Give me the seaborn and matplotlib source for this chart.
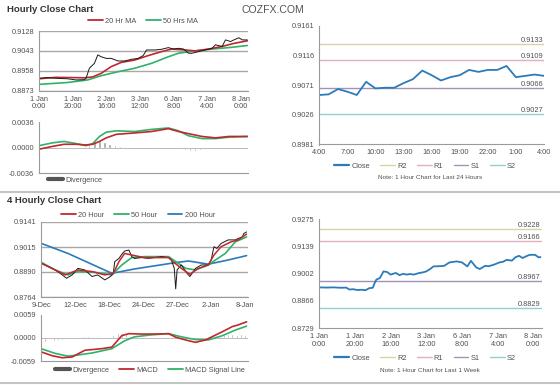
import matplotlib
matplotlib.use("Agg")
import matplotlib.pyplot as plt
from matplotlib.lines import Line2D
import seaborn as sns

# ---------------- data ----------------
# hourly close chart (hours since 1 Jan 0:00)
tl_hours = [0, 5, 10, 17, 22, 27, 28, 30, 33, 35, 37, 40, 43, 47, 51, 55, 59, 62, 64, 69,
            73, 77, 80, 83, 86, 89, 91, 95, 99, 103, 105, 109, 111, 114, 116, 119, 121, 124]
tl_close = [0.8926, 0.8929, 0.8926, 0.8924, 0.8919, 0.8920, 0.8926, 0.8969, 0.8990, 0.9026,
            0.9018, 0.9011, 0.9011, 0.9000, 0.9000, 0.9007, 0.9011, 0.9023, 0.9047, 0.9047,
            0.9050, 0.9057, 0.9051, 0.9054, 0.9051, 0.9033, 0.9033, 0.9040, 0.9047, 0.9054,
            0.9069, 0.9062, 0.9090, 0.9083, 0.9090, 0.9099, 0.9090, 0.9090]
tl_ma20_hours = [0, 10, 20, 27, 32, 37, 43, 49, 57, 65, 73, 79, 87, 93, 101, 109, 116, 124]
tl_ma20 = [0.8924, 0.8930, 0.8929, 0.8928, 0.8932, 0.8947, 0.8976, 0.8994, 0.9004, 0.9023,
           0.9040, 0.9051, 0.9047, 0.9043, 0.9051, 0.9062, 0.9075, 0.9086]
tl_ma50_hours = [0, 17, 29, 37, 47, 57, 67, 77, 83, 93, 103, 113, 124]
tl_ma50 = [0.8900, 0.8908, 0.8919, 0.8937, 0.8954, 0.8969, 0.8990, 0.9018, 0.9033, 0.9043,
           0.9051, 0.9057, 0.9066]
tl_osc_hours = [0, 8, 15, 22, 28, 32, 36, 40, 46, 57, 67, 77, 83, 89, 97, 105, 113, 124]
tl_osc_green = [0.0003, 0.0007, 0.0009, 0.0006, 0.0003, 0.0006, 0.0016, 0.0022, 0.0024, 0.0023,
                0.0026, 0.0028, 0.0024, 0.0017, 0.0013, 0.0013, 0.0015, 0.0016]
tl_osc_red = [-0.0002, 0.0002, 0.0005, 0.0005, 0.0004, 0.0005, 0.0009, 0.0014, 0.0019, 0.0021,
              0.0023, 0.0027, 0.0023, 0.0020, 0.0016, 0.0014, 0.0016, 0.0016]
tl_div_hours = list(range(0, 124, 3))
tl_div = [0.0002, 0.0002, 0.0002, 0.0001, 0.0001, 0.0000, -0.0001, -0.0001, 0.0000, 0.0000,
          0.0004, 0.0008, 0.0010, 0.0008, 0.0006, 0.0004, 0.0002, 0.0001, 0.0000, 0.0000,
          0.0001, 0.0001, 0.0000, 0.0001, 0.0001, 0.0000, 0.0000, 0.0000, -0.0001, -0.0003,
          -0.0005, -0.0005, -0.0003, -0.0001, 0.0000, 0.0000, 0.0000, 0.0001, 0.0000, 0.0001,
          0.0001, 0.0000]
week_ticks = [0, 20, 40, 60, 80, 100, 120]
week_labels = ["1 Jan\n0:00", "1 Jan\n20:00", "2 Jan\n16:00", "3 Jan\n12:00",
               "6 Jan\n8:00", "7 Jan\n4:00", "8 Jan\n0:00"]

# last 24 hours with pivots
tr_close = [0.9056, 0.9057, 0.9065, 0.9061, 0.9056, 0.9076, 0.9066, 0.9067, 0.9067, 0.9074,
            0.9080, 0.9093, 0.9086, 0.9078, 0.9083, 0.9086, 0.9094, 0.9091, 0.9094, 0.9094,
            0.9100, 0.9083, 0.9085, 0.9087, 0.9085]
tr_hours = list(range(len(tr_close)))
tr_labels = ["4:00", "7:00", "10:00", "13:00", "16:00", "19:00", "22:00", "1:00", "4:00"]
tr_levels = {"R2": 0.9133, "R1": 0.9109, "S1": 0.9066, "S2": 0.9027}

# last week, hourly, with pivots
br_hours = [0, 4, 8, 12, 15, 17, 19, 21, 24, 26, 28, 30, 31, 32, 34, 36, 38, 40, 42, 43,
            45, 47, 49, 51, 53, 56, 58, 60, 62, 64, 67, 70, 73, 77, 80, 83, 85, 88, 90, 93,
            95, 98, 101, 103, 105, 108, 110, 112, 114, 116, 118, 121, 123, 124]
br_close = [0.8934, 0.8933, 0.8934, 0.8932, 0.8933, 0.8923, 0.8925, 0.8921, 0.8922, 0.8920,
            0.8930, 0.8932, 0.8955, 0.8973, 0.8981, 0.9014, 0.9011, 0.8998, 0.9004, 0.9006,
            0.8995, 0.9002, 0.8998, 0.9001, 0.8998, 0.9006, 0.9009, 0.9014, 0.9025, 0.9039,
            0.9040, 0.9042, 0.9059, 0.9064, 0.9059, 0.9039, 0.9067, 0.9034, 0.9026, 0.9042,
            0.9040, 0.9048, 0.9059, 0.9062, 0.9072, 0.9068, 0.9085, 0.9092, 0.9081, 0.9090,
            0.9097, 0.9097, 0.9084, 0.9086]
br_levels = {"R2": 0.9228, "R1": 0.9166, "S1": 0.8967, "S2": 0.8829}

# 4 hourly chart (bar index, 6 bars a day)
bl_bars = [0, 5, 10, 15, 18, 22, 24, 26, 31, 36, 40, 45, 49, 51, 52, 55, 57, 59, 62, 64,
           66, 71, 76, 80, 85, 90, 92, 94, 95, 96, 99, 103, 105, 109, 113, 118, 120, 122, 124, 127,
           132, 137, 139, 142, 143, 145]
bl_close = [0.8934, 0.8917, 0.8900, 0.8875, 0.8858, 0.8875, 0.8892, 0.8908, 0.8900, 0.8867,
            0.8875, 0.8850, 0.8867, 0.8883, 0.8942, 0.8958, 0.8979, 0.8995, 0.9000, 0.8967,
            0.8958, 0.8962, 0.8958, 0.8962, 0.8967, 0.8962, 0.8950, 0.8908, 0.8805, 0.8900,
            0.8925, 0.8883, 0.8867, 0.8908, 0.8925, 0.8925, 0.8950, 0.9017, 0.9008, 0.9033,
            0.9051, 0.9051, 0.9058, 0.9066, 0.9083, 0.9091]
bl_ma20_bars = [0, 10, 17, 26, 36, 45, 51, 55, 59, 64, 73, 90, 93, 99, 105, 111, 118, 122, 127, 134, 139, 145]
bl_ma20 = [0.8934, 0.8900, 0.8875, 0.8900, 0.8892, 0.8875, 0.8883, 0.8942, 0.8983, 0.8975,
           0.8962, 0.8962, 0.8942, 0.8908, 0.8878, 0.8908, 0.8925, 0.8975, 0.9017, 0.9041,
           0.9051, 0.9080]
bl_ma50_bars = [0, 10, 19, 26, 38, 50, 57, 64, 73, 90, 95, 102, 109, 118, 123, 130, 137, 145]
bl_ma50 = [0.8939, 0.8900, 0.8875, 0.8892, 0.8888, 0.8875, 0.8925, 0.8962, 0.8967, 0.8967,
           0.8942, 0.8908, 0.8900, 0.8925, 0.8950, 0.8983, 0.9041, 0.9066]
bl_ma200_bars = [0, 19, 50, 66, 95, 104, 118, 132, 145]
bl_ma200 = [0.9034, 0.8983, 0.8883, 0.8905, 0.8937, 0.8945, 0.8929, 0.8950, 0.8972]
bl_macd_bars = [0, 8, 15, 22, 31, 43, 50, 57, 62, 71, 81, 90, 95, 102, 109, 116, 120, 128, 135, 139, 145]
bl_macd = [-0.0035, -0.0045, -0.0050, -0.0048, -0.0031, -0.0027, -0.0023, 0.0006, 0.0011, 0.0010,
           0.0010, 0.0011, 0.0002, -0.0005, -0.0011, -0.0005, 0.0002, 0.0016, 0.0029, 0.0033, 0.0041]
bl_signal_bars = [0, 10, 19, 26, 36, 50, 59, 66, 78, 90, 99, 109, 118, 128, 137, 145]
bl_signal = [-0.0027, -0.0039, -0.0046, -0.0043, -0.0038, -0.0027, -0.0007, 0.0003, 0.0008, 0.0011,
             0.0003, -0.0004, -0.0005, 0.0006, 0.0020, 0.0030]
bl_div_bars = list(range(0, 145, 3))
bl_div = [-0.0008, -0.0009, -0.0008, -0.0007, -0.0006, -0.0005, -0.0003, -0.0002, 0.0000, 0.0002,
          0.0004, 0.0004, 0.0003, 0.0002, 0.0001, 0.0001, 0.0003, 0.0007, 0.0012, 0.0013,
          0.0009, 0.0005, 0.0003, 0.0002, 0.0002, 0.0001, 0.0002, 0.0001, 0.0001, 0.0002,
          0.0001, 0.0000, -0.0003, -0.0004, -0.0005, -0.0004, -0.0003, -0.0002, -0.0001, 0.0000,
          0.0002, 0.0004, 0.0006, 0.0007, 0.0009, 0.0009, 0.0008, 0.0009, 0.0008]
day_ticks = [0, 24, 48, 72, 96, 120, 144]
day_labels = ["9-Dec", "12-Dec", "18-Dec", "24-Dec", "27-Dec", "2-Jan", "8-Jan"]

# ---------------- style ----------------
sns.set_style("white")
plt.rcParams['font.family'] = ['Liberation Sans', 'DejaVu Sans']

RED = '#c0282d'
GREEN = '#2fb26a'
BLUE = '#2b7bbb'
TXT = '#505050'
LEVEL_COLORS = {"R2": '#d8d4a2', "R1": '#deb0c0', "S1": '#a293b6', "S2": '#94cdd6'}
FS = 5.3


def fmt(vals, nd=4):
    return [f"{v:.{nd}f}" for v in vals]


def style_axis(ax, yticks, grid=False):
    ax.set_yticks(yticks)
    ax.set_yticklabels(fmt(yticks))
    ax.set_ylim(yticks[0], yticks[-1])
    for s in ['top', 'right']:
        ax.spines[s].set_visible(False)
    for s in ['left', 'bottom']:
        ax.spines[s].set_color('#9a9a9a')
        ax.spines[s].set_linewidth(0.8)
    ax.tick_params(labelsize=FS, colors=TXT, length=2, width=0.6, pad=1.5)
    if grid:
        ax.yaxis.grid(True, color='#a8a8a8', lw=1.0)
    ax.set_xlabel('')
    ax.set_ylabel('')


def line_handle(color, lw=1.3):
    return Line2D([0], [0], color=color, lw=lw)


def small_legend(handles, labels, x, y, ncol, loc='center'):
    fig.legend(handles, labels, loc=loc, bbox_to_anchor=(x, y), ncol=ncol, frameon=False,
               fontsize=FS, handlelength=2.0, handletextpad=0.3, columnspacing=1.4,
               labelcolor=TXT, borderaxespad=0)


def pivot_lines(ax, levels):
    for name, val in levels.items():
        ax.axhline(val, color=LEVEL_COLORS[name], lw=1.0)
        ax.text(0.995, val, f"{val:.4f}", transform=ax.get_yaxis_transform(),
                ha='right', va='bottom', fontsize=FS, color=TXT)


fig = plt.figure(figsize=(5.6, 3.85), dpi=100)

# titles
fig.text(7 / 560, 1 - 9 / 385, "Hourly Close Chart", fontsize=6.8, weight='bold', color='#333333', va='center')
fig.text(241 / 560, 1 - 10 / 385, "COZFX.COM", fontsize=7.6, color='#555555', va='center')
fig.text(7 / 560, 1 - 201 / 385, "4 Hourly Close Chart", fontsize=6.8, weight='bold', color='#333333', va='center')

# separators
for yy in [192, 383]:
    fig.add_artist(Line2D([0, 1], [1 - yy / 385, 1 - yy / 385], transform=fig.transFigure,
                          color='#c4c4c4', lw=1.5))

# ---- hourly price ----
ax1 = fig.add_axes([39 / 560, 1 - 90.7 / 385, 209 / 560, 59.7 / 385])
sns.lineplot(x=tl_ma50_hours, y=tl_ma50, ax=ax1, color=GREEN, lw=1.2)
sns.lineplot(x=tl_ma20_hours, y=tl_ma20, ax=ax1, color=RED, lw=1.2)
sns.lineplot(x=tl_hours, y=tl_close, ax=ax1, color='#1a1a1a', lw=0.7)
style_axis(ax1, [0.8873, 0.8958, 0.9043, 0.9128], grid=True)
ax1.set_xlim(0, 124.4)
ax1.set_xticks(week_ticks)
ax1.set_xticklabels(week_labels, linespacing=1.15)
small_legend([line_handle(RED), line_handle(GREEN)], ["20 Hr MA", "50 Hrs MA"], 143 / 560, 1 - 21 / 385, 2)

# ---- hourly oscillator ----
ax2 = fig.add_axes([39 / 560, 1 - 173.3 / 385, 209 / 560, 51 / 385])
ax2.bar(tl_div_hours, tl_div, width=1.3, color='#a0a0a0')
ax2.axhline(0, color='#b0b0b0', lw=0.6)
sns.lineplot(x=tl_osc_hours, y=tl_osc_green, ax=ax2, color=GREEN, lw=1.2)
sns.lineplot(x=tl_osc_hours, y=tl_osc_red, ax=ax2, color=RED, lw=1.2)
style_axis(ax2, [-0.0036, 0.0000, 0.0036])
ax2.set_xlim(0, 124.4)
ax2.set_xticks([])
small_legend([line_handle('#555555', 3)], ["Divergence"], 45 / 560, 1 - 180 / 385, 1, loc='center left')

# ---- last 24 hours ----
ax3 = fig.add_axes([319.3 / 560, 1 - 144.5 / 385, 224.7 / 560, 118.8 / 385])
pivot_lines(ax3, tr_levels)
sns.lineplot(x=tr_hours, y=tr_close, ax=ax3, color=BLUE, lw=1.3)
style_axis(ax3, [0.8981, 0.9026, 0.9071, 0.9116, 0.9161])
ax3.set_xlim(0, 24)
ax3.set_xticks(list(range(0, 25, 3)))
ax3.set_xticklabels(tr_labels)
piv_handles = [line_handle(BLUE, 1.6)] + [line_handle(LEVEL_COLORS[k], 1.0) for k in ["R2", "R1", "S1", "S2"]]
small_legend(piv_handles, ["Close", "R2", "R1", "S1", "S2"], 425 / 560, 1 - 166 / 385, 5)
fig.text(430 / 560, 1 - 177 / 385, "Note: 1 Hour Chart for Last 24 Hours", fontsize=4.6, color=TXT,
         ha='center', va='center')

# ---- 4 hourly price ----
ax4 = fig.add_axes([41 / 560, 1 - 297 / 385, 207 / 560, 75 / 385])
sns.lineplot(x=bl_ma200_bars, y=bl_ma200, ax=ax4, color=BLUE, lw=1.2)
sns.lineplot(x=bl_ma50_bars, y=bl_ma50, ax=ax4, color=GREEN, lw=1.2)
sns.lineplot(x=bl_bars, y=bl_close, ax=ax4, color='#1a1a1a', lw=0.7)
sns.lineplot(x=bl_ma20_bars, y=bl_ma20, ax=ax4, color=RED, lw=1.1)
style_axis(ax4, [0.8764, 0.8890, 0.9015, 0.9141], grid=True)
ax4.set_xlim(0, 146)
ax4.set_xticks(day_ticks)
ax4.set_xticklabels(day_labels)
small_legend([line_handle(RED), line_handle(GREEN), line_handle(BLUE)],
             ["20 Hour", "50 Hour", "200 Hour"], 138 / 560, 1 - 215 / 385, 3)

# ---- 4 hourly MACD ----
ax5 = fig.add_axes([41 / 560, 1 - 361.3 / 385, 207 / 560, 46.6 / 385])
ax5.bar(bl_div_bars, bl_div, width=1.4, color='#a0a0a0')
ax5.axhline(0, color='#b0b0b0', lw=0.6)
sns.lineplot(x=bl_signal_bars, y=bl_signal, ax=ax5, color=GREEN, lw=1.2)
sns.lineplot(x=bl_macd_bars, y=bl_macd, ax=ax5, color=RED, lw=1.2)
style_axis(ax5, [-0.0059, 0.0000, 0.0059])
ax5.set_xlim(0, 146)
ax5.set_xticks([])
small_legend([line_handle('#555555', 3), line_handle(RED), line_handle(GREEN)],
             ["Divergence", "MACD", "MACD Signal Line"], 150 / 560, 1 - 370 / 385, 3)

# ---- last week ----
ax6 = fig.add_axes([319.3 / 560, 1 - 328.3 / 385, 222.4 / 560, 109 / 385])
pivot_lines(ax6, br_levels)
sns.lineplot(x=br_hours, y=br_close, ax=ax6, color=BLUE, lw=1.3)
style_axis(ax6, [0.8729, 0.8866, 0.9002, 0.9139, 0.9275])
ax6.set_xlim(0, 124.7)
ax6.set_xticks(week_ticks)
ax6.set_xticklabels(week_labels, linespacing=1.15)
small_legend(piv_handles, ["Close", "R2", "R1", "S1", "S2"], 425 / 560, 1 - 358 / 385, 5)
fig.text(430 / 560, 1 - 370 / 385, "Note: 1 Hour Chart for Last 1 Week", fontsize=4.6, color=TXT,
         ha='center', va='center')

fig.savefig("out.png", dpi=100)
